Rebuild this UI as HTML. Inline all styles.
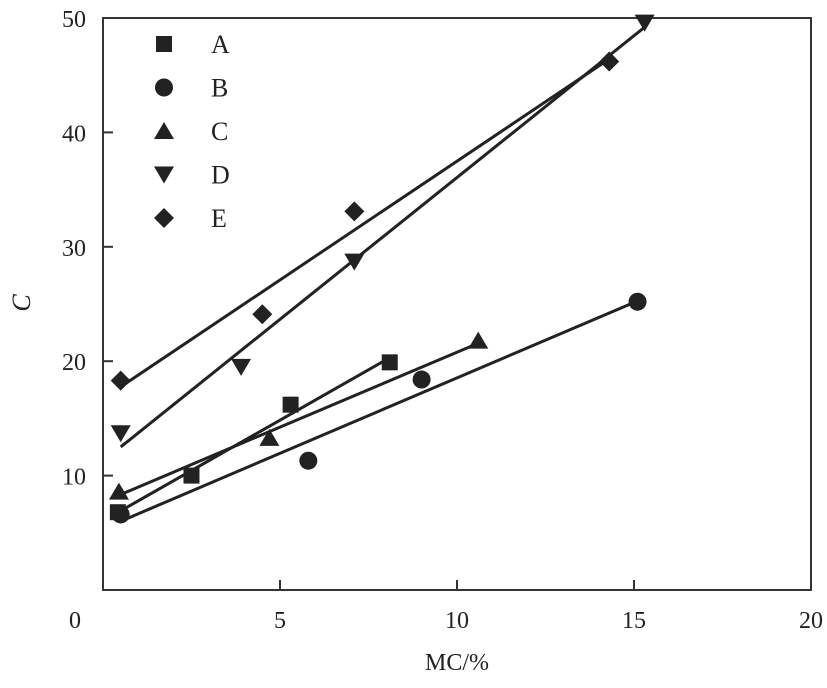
<!DOCTYPE html>
<html><head><meta charset="utf-8"><style>
body{margin:0;background:#fff}
svg text{font-family:"Liberation Serif",serif;fill:#222}
</style></head><body>
<svg id="chart" width="827" height="683" viewBox="0 0 827 683" xmlns="http://www.w3.org/2000/svg">
<g id="plot"></g>
</svg>
<script>
const seriesNames=["A","B","C","D","E"];
const seriesShapes=["square","circle","up","down","diamond"];
const xA=[0.42,2.5,5.3,8.1], yA=[6.8,10.0,16.2,19.9];
const xB=[0.5,5.8,9.0,15.1], yB=[6.6,11.3,18.4,25.2];
const xC=[0.45,4.7,10.6], yC=[8.6,13.3,21.8];
const xD=[0.5,3.9,7.1,15.3], yD=[13.7,19.5,28.7,49.6];
const xE=[0.5,4.5,7.1,14.3], yE=[18.3,24.1,33.1,46.2];
const xTicks=[0,5,10,15,20];
const yTicks=[10,20,30,40,50];
const L=103,R=811,T=18,B=590;
const sx=v=>L+(R-L)*v/20, sy=v=>B-(B-T)*v/50;
const NS="http://www.w3.org/2000/svg";
const g=document.getElementById('plot');
function mk(t,a){const e=document.createElementNS(NS,t);for(const k in a)e.setAttribute(k,a[k]);g.appendChild(e);return e;}
function marker(shape,cx,cy){
  const s=9;let e;
  if(shape==="square")e=mk('rect',{x:cx-s+1,y:cy-s+1,width:2*s-2,height:2*s-2,fill:'#222'});
  else if(shape==="circle")e=mk('circle',{cx:cx,cy:cy,r:s,fill:'#222'});
  else if(shape==="up")e=mk('polygon',{points:`${cx},${cy-s} ${cx+s+1},${cy+s-1} ${cx-s-1},${cy+s-1}`,fill:'#222'});
  else if(shape==="down")e=mk('polygon',{points:`${cx-s-1},${cy-s+1} ${cx+s+1},${cy-s+1} ${cx},${cy+s}`,fill:'#222'});
  else e=mk('polygon',{points:`${cx},${cy-s-1} ${cx+s+1},${cy} ${cx},${cy+s+1} ${cx-s-1},${cy}`,fill:'#222'});
  return e;
}
// frame
const fr=mk('rect',{x:L,y:T,width:R-L,height:B-T,fill:'none',stroke:'#333','stroke-width':2});


xTicks.forEach((v,i)=>{
  if(i>0&&i<xTicks.length-1){const t=mk('line',{x1:sx(v),x2:sx(v),y1:B,y2:B-10,stroke:'#333','stroke-width':2});
  }
  const tx=mk('text',{x:i===0?75:sx(v),y:628,'font-size':24,'text-anchor':'middle'});tx.textContent=v;
  
  
});
yTicks.forEach((v,i)=>{
  if(i<yTicks.length-1){const t=mk('line',{x1:L,x2:L+10,y1:sy(v),y2:sy(v),stroke:'#333','stroke-width':2});
  }
  const tx=mk('text',{x:86,y:sy(v)+9,'font-size':24,'text-anchor':'end'});tx.textContent=v;
  
  
});
const xt=mk('text',{x:457,y:670,'font-size':24,'text-anchor':'middle'});xt.textContent='MC/%';


const yt=mk('text',{x:30,y:303,'font-size':26,'font-style':'italic','text-anchor':'middle',transform:'rotate(-90 30 303)'});yt.textContent='C';


const X=[xA,xB,xC,xD,xE],Y=[yA,yB,yC,yD,yE];
X.forEach((xs,k)=>{
  const ys=Y[k],n=xs.length;
  const mx=xs.reduce((a,b)=>a+b)/n,my=ys.reduce((a,b)=>a+b)/n;
  let num=0,den=0;xs.forEach((x,i)=>{num+=(x-mx)*(ys[i]-my);den+=(x-mx)**2;});
  const b=num/den,a=my-b*mx;const x0=Math.min(...xs),x1=Math.max(...xs);
  const ln=mk('line',{x1:sx(x0),y1:sy(a+b*x0),x2:sx(x1),y2:sy(a+b*x1),stroke:'#222','stroke-width':3});
  
  
  xs.forEach((x,i)=>{const m=marker(seriesShapes[k],sx(x),sy(ys[i]));
    
    });
  const ly=44+k*43.5;
  const lm=marker(seriesShapes[k],164,ly);
  
  
  const lt=mk('text',{x:211,y:ly+9,'font-size':26});lt.textContent=seriesNames[k];
  
  
});
</script>
</body></html>
